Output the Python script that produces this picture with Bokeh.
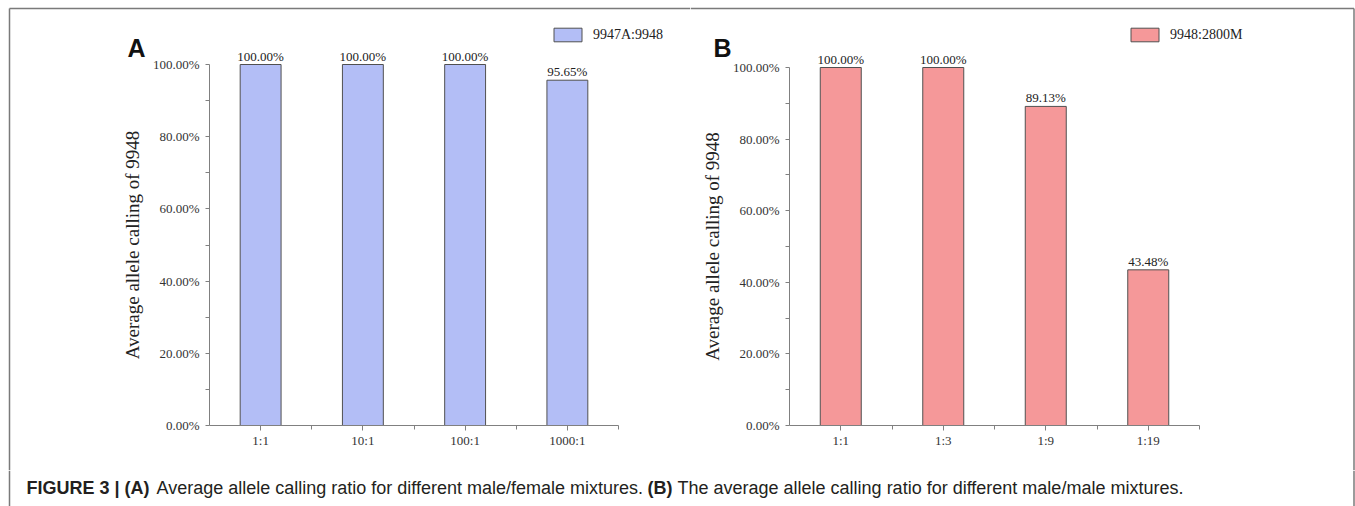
from bokeh.plotting import figure
from bokeh.models import (ColumnDataSource, FixedTicker, PrintfTickFormatter, LabelSet, Label,
                          Legend, LegendItem, Range1d, LinearAxis)
from bokeh.layouts import row, column
from bokeh.embed import file_html
from bokeh.resources import INLINE

# ---------------- data ----------------
cats_a = ["1:1", "10:1", "100:1", "1000:1"]
vals_a = [100.00, 100.00, 100.00, 95.65]
series_a = "9947A:9948"

cats_b = ["1:1", "1:3", "1:9", "1:19"]
vals_b = [100.00, 100.00, 89.13, 43.48]
series_b = "9948:2800M"

y_major = [0, 20, 40, 60, 80, 100]
y_minor = [10, 30, 50, 70, 90]
y_title = "Average allele calling of 9948"

caption_parts = [
    ("FIGURE 3 | (A)", "bold"),
    ("Average allele calling ratio for different male/female mixtures.", "normal"),
    ("(B)", "bold"),
    ("The average allele calling ratio for different male/male mixtures.", "normal"),
]

SERIF = "Liberation Serif"
SANS = "Liberation Sans"
BORDER = "#7a7a7a"
AXIS = "#808080"
H = 470            # height of the chart row
PAGE_W = 1355
SPLIT = 690        # page x where panel B's canvas starts
BTOP, BLEFT, BRIGHT = 8, 9, 1353.5   # figure frame border (page px)


def make_panel(cats, vals, color, series, letter, W, ox, axis_x, axis_x_end, top_py, zero_py,
               leg_px, letter_px):
    """ox: page x of this canvas; axis_x/axis_x_end/top_py/zero_py: page px of plot area."""
    n = len(cats)
    xs = list(range(1, n + 1))
    kx = (axis_x_end - axis_x) / n
    ky = (zero_py - top_py) / 100.0
    lx = axis_x - ox
    x_start = 0.5 - lx / kx
    x_end = 0.5 + (W - lx) / kx
    y_start = -(H - zero_py) / ky
    y_end = 100 + top_py / ky

    def xd(px):  # page px -> data x
        return x_start + (px - ox) / kx

    def yd(py):  # page py -> data y
        return y_start + (H - py) / ky

    p = figure(width=W, height=H, output_backend="svg", toolbar_location=None, title=None,
               x_range=Range1d(x_start, x_end), y_range=Range1d(y_start, y_end),
               x_axis_type=None, y_axis_type=None, min_border=0)
    p.outline_line_color = None
    p.background_fill_color = "white"
    p.border_fill_color = "white"

    src = ColumnDataSource(dict(x=xs, y=vals, label=[f"{v:.2f}%" for v in vals]))
    r = p.vbar(x="x", top="y", bottom=0, width=0.4, source=src,
               fill_color=color, line_color="#505050", line_width=1)

    p.add_layout(LabelSet(x="x", y="y", text="label", source=src, text_align="center",
                          text_baseline="bottom", y_offset=1, text_font=SERIF,
                          text_font_size="13px", text_color="#222222"))

    xa = LinearAxis(fixed_location=0, bounds=(0.5, n + 0.5),
                    ticker=FixedTicker(ticks=xs, minor_ticks=[x + 0.5 for x in xs]),
                    major_label_overrides={x: c for x, c in zip(xs, cats)},
                    major_tick_in=0, major_tick_out=5, minor_tick_in=0, minor_tick_out=4,
                    major_label_standoff=2)
    ya = LinearAxis(fixed_location=0.5, bounds=(0, 100),
                    ticker=FixedTicker(ticks=y_major, minor_ticks=y_minor),
                    formatter=PrintfTickFormatter(format="%.2f%%"),
                    major_tick_in=0, major_tick_out=4, minor_tick_in=0, minor_tick_out=4,
                    major_label_standoff=6, axis_label=y_title, axis_label_standoff=7,
                    axis_label_text_font=SERIF, axis_label_text_font_size="19px",
                    axis_label_text_font_style="normal", axis_label_text_color="#222222")
    for ax in (xa, ya):
        ax.axis_line_color = AXIS
        ax.major_tick_line_color = AXIS
        ax.minor_tick_line_color = AXIS
        ax.major_label_text_font = SERIF
        ax.major_label_text_color = "#333333"
    xa.major_label_text_font_size = "13px"
    ya.major_label_text_font_size = "13px"
    p.add_layout(xa, "below")
    p.add_layout(ya, "left")

    legend = Legend(items=[LegendItem(label=series, renderers=[r])],
                    location=(leg_px[0] - ox, H - leg_px[1]),
                    padding=0, margin=0, border_line_alpha=0, background_fill_alpha=0,
                    glyph_width=35, glyph_height=17, label_height=17, label_standoff=8,
                    label_text_font=SERIF, label_text_font_size="14px",
                    label_text_color="#222222")
    p.add_layout(legend)

    p.add_layout(Label(x=xd(letter_px[0]), y=yd(letter_px[1]), text=letter,
                       text_font=SANS, text_font_size="25px", text_font_style="bold",
                       text_color="#111111", text_baseline="alphabetic", text_align="left"))

    # figure frame border: top line, and left/right lines where they fall in this canvas
    x0b = max(BLEFT, ox)
    x1b = min(BRIGHT, ox + W)
    p.segment(x0=[xd(x0b)], y0=[yd(BTOP)], x1=[xd(x1b)], y1=[yd(BTOP)],
              line_color=BORDER, line_width=1.5)
    for bx in (BLEFT, BRIGHT):
        if ox <= bx <= ox + W:
            p.segment(x0=[xd(bx)], y0=[yd(BTOP)], x1=[xd(bx)], y1=[yd(H)],
                      line_color=BORDER, line_width=1.5)
    return p


pa = make_panel(cats_a, vals_a, "#b3bef6", series_a, "A", SPLIT, 0,
                209, 618, 64, 425, (550, 43), (127, 47))
pb = make_panel(cats_b, vals_b, "#f59899", series_b, "B", PAGE_W - SPLIT, SPLIT,
                789, 1199, 67, 425, (1127, 43), (713, 47))

CH = 506 - H
pc = figure(width=PAGE_W, height=CH, output_backend="svg", toolbar_location=None, title=None,
            x_range=Range1d(0, PAGE_W), y_range=Range1d(0, CH), x_axis_type=None,
            y_axis_type=None, min_border=0)
pc.outline_line_color = None
pc.segment(x0=[BLEFT, BRIGHT], y0=[0, 0], x1=[BLEFT, BRIGHT], y1=[CH, CH],
           line_color=BORDER, line_width=1.5)
cap_x = [26, 156, 647, 677]
cap_baseline = 487
for (txt, style), cx in zip(caption_parts, cap_x):
    pc.add_layout(Label(x=cx, y=506 - cap_baseline, text=txt, text_font=SANS,
                        text_font_size="18px", text_font_style=style, text_color="#231f20",
                        text_baseline="alphabetic", text_align="left"))

layout = column(row(pa, pb), pc)
open("out.html", "w").write(file_html(layout, INLINE))
